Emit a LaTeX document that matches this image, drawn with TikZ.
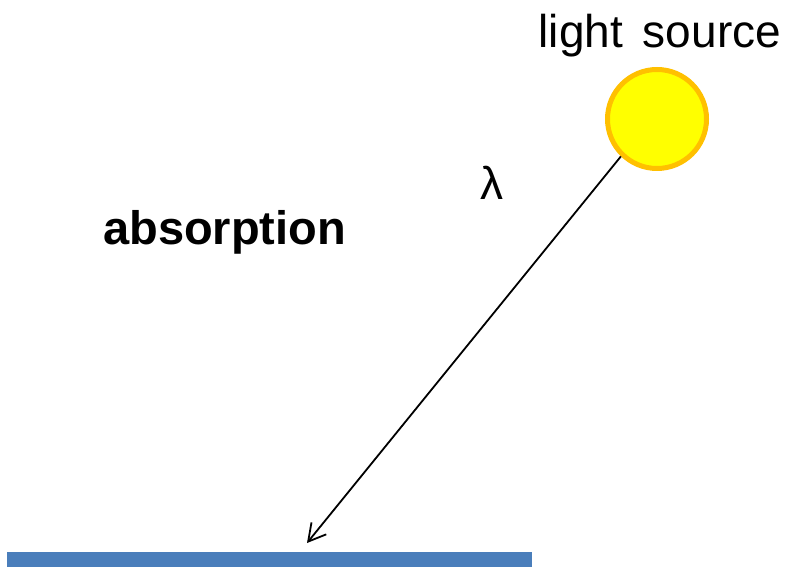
\documentclass[tikz,border=0pt]{standalone}
\usepackage{fontspec}
\setmainfont{Liberation Sans}
\usetikzlibrary{arrows.meta}
\definecolor{sunfill}{HTML}{FFFF00}
\definecolor{sunedge}{HTML}{FFC000}
\definecolor{barblue}{HTML}{4A7EBB}
\begin{document}
\begin{tikzpicture}[x=1pt,y=1pt,
  bigtext/.style={inner sep=0pt,font=\fontsize{46}{50}\selectfont},
  sunstyle/.style={circle,minimum size=99pt,inner sep=0pt,fill=sunfill,draw=sunedge,line width=5pt},
  ray/.style={line width=1.8pt,-{Straight Barb[length=17pt,width=19pt]}}]
\useasboundingbox (0,0) rectangle (786,567);
\node[bigtext,anchor=base west] (ls) at (538.5,519.3) {light\hspace{7pt} source};
\node[bigtext,anchor=base west,font=\fontsize{47}{50}\selectfont\bfseries] (abs) at (103,322) {absorption};
\node[bigtext] (lam) at (492,384) {λ};
\node[sunstyle] (sun) at (657,448) {};
\fill[barblue] (7,0) rectangle (532,15);
\coordinate (tip) at (307,24);
\draw[ray] (sun.226) -- (tip);
\end{tikzpicture}
\end{document}
